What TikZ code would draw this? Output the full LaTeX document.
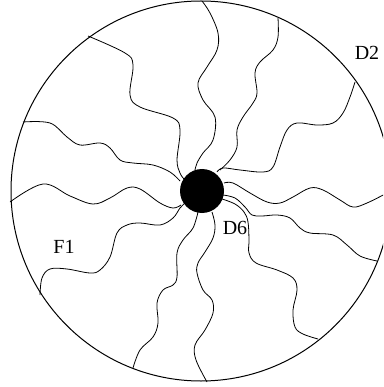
\documentclass[tikz,border=0pt]{standalone}
\usepackage{fontspec}
\setmainfont{Liberation Serif}
\begin{document}
\begin{tikzpicture}[x=1pt,y=-1pt,
  wave/.style={line width=0.8pt, smooth, tension=0.6},
  lbl/.style={font=\fontsize{20}{22}\selectfont, inner sep=0pt}]
\clip (0,0) rectangle (383,387);
\fill[white] (0,0) rectangle (383,387);
\draw[line width=1pt] (201,191) circle (190);
\draw[wave] plot coordinates {(195,170) (197,163) (203,153) (213,140) (215,117) (203,100) (198,83) (207,67) (217,50) (218,33) (210,13) (202,1)};
\draw[wave] plot coordinates {(220,170) (230,160) (237,147) (237,130) (243,117) (253,103) (257,93) (255,73) (260,62) (273,50) (278,37) (278,18)};
\draw[wave] plot coordinates {(217,172) (223,168) (240,170) (263,172) (273,167) (280,147) (287,130) (297,123) (317,125) (333,123) (343,113) (350,97) (355,82)};
\draw[wave] plot coordinates {(224,183) (233,183) (250,193) (267,202) (280,203) (293,197) (310,188) (323,190) (340,200) (353,207) (367,203) (387,193)};
\draw[wave] plot coordinates {(223,195) (235,198) (245,207) (252,215) (262,216) (277,215) (290,218) (300,228) (310,233) (333,235) (347,245) (360,256) (377,261)};
\draw[wave] plot coordinates {(222,199) (235,204) (244,212) (248,222) (249,240) (249,253) (256,263) (277,270) (293,278) (297,290) (293,310) (295,327) (303,334) (318,339)};
\draw[wave] plot coordinates {(212,212) (215,225) (213,238) (205,252) (198,263) (197,273) (203,290) (212,300) (213,313) (205,330) (195,345) (196,360) (207,382)};
\draw[wave] plot coordinates {(198,212) (193,228) (183,240) (177,253) (177,277) (173,285) (163,290) (157,303) (158,323) (153,337) (140,350) (133,368)};
\draw[wave] plot coordinates {(185,203) (180,208) (173,218) (160,225) (140,223) (127,225) (117,233) (110,257) (100,270) (90,273) (67,269) (50,269) (42,278) (40,295)};
\draw[wave] plot coordinates {(181,205) (173,208) (160,203) (140,189) (127,188) (110,198) (93,204) (70,196) (43,184) (10,202)};
\draw[wave] plot coordinates {(180,181) (170,172) (153,165) (133,163) (120,160) (110,148) (100,143) (80,145) (67,137) (50,123) (23,122)};
\draw[wave] plot coordinates {(184,179) (180,173) (177,160) (180,130) (173,118) (140,107) (130,95) (133,65) (125,53) (88,36)};
\fill (202,191) circle (22);
\node[lbl] (d2) at (367,53) {D2};
\node[lbl] (f1) at (64,247) {F1};
\node[lbl] (d6) at (235,228) {D6};
\end{tikzpicture}
\end{document}
